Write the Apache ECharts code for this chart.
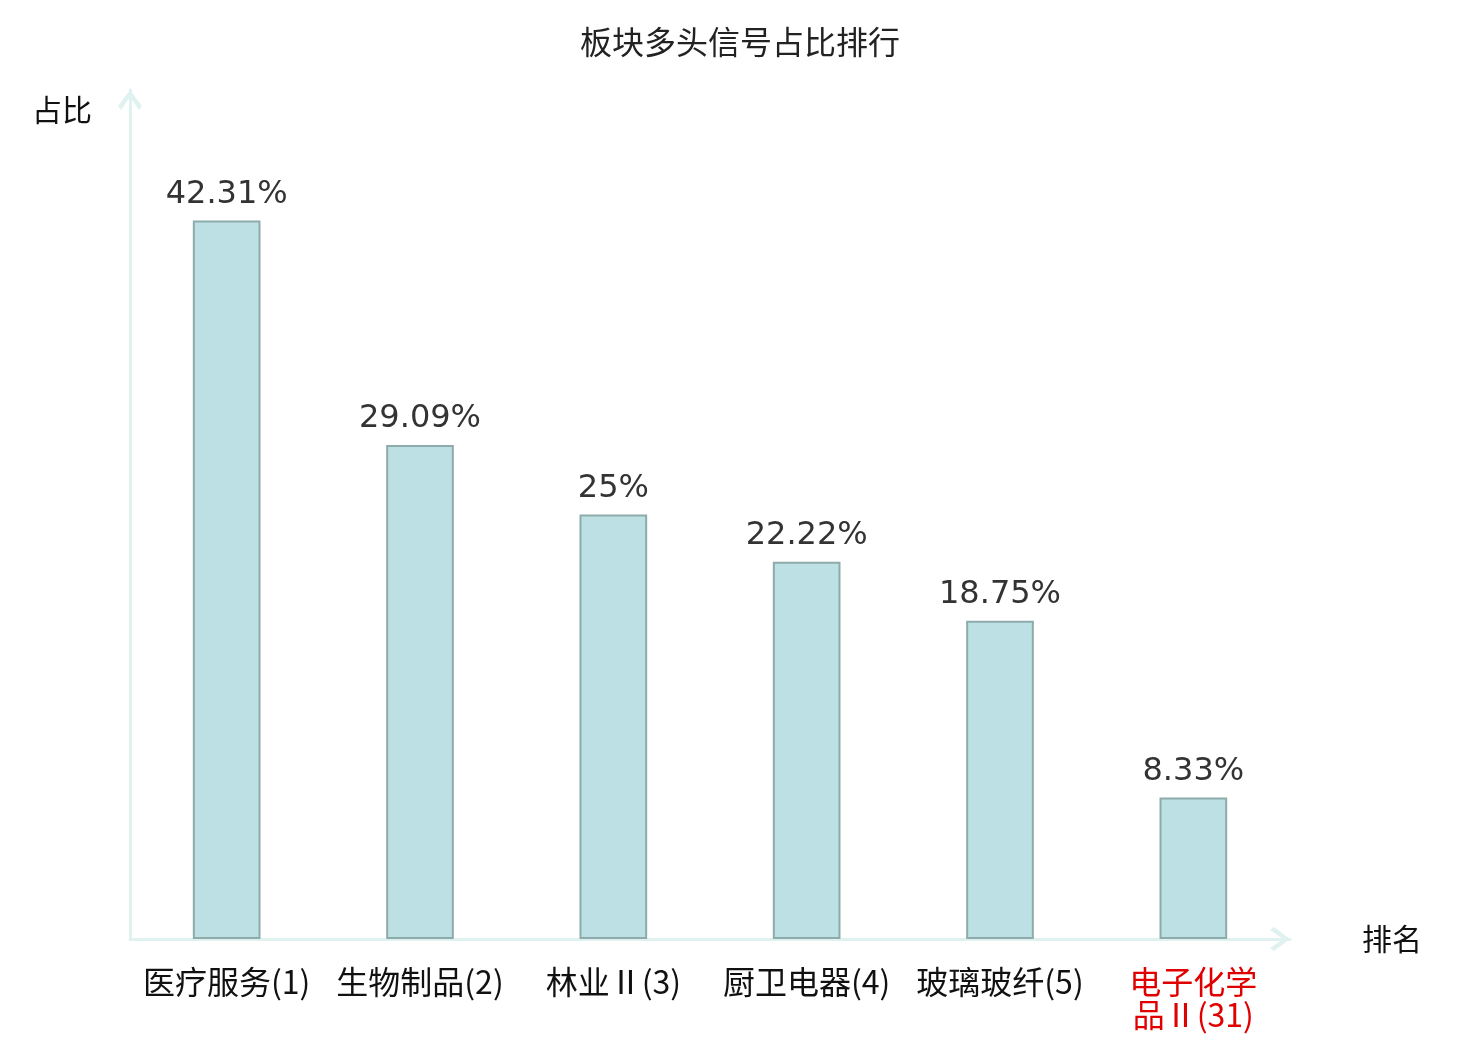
<!DOCTYPE html>
<html>
<head>
<meta charset="utf-8">
<script src="https://cdn.jsdelivr.net/npm/echarts@6/dist/echarts.min.js"></script>
<style>
  html, body { margin: 0; padding: 0; background: #fff; }
  #chart { width: 1480px; height: 1040px; }
</style>
</head>
<body>
<div id="chart"></div>
<script>
const categories = ['医疗服务(1)', '生物制品(2)', '林业Ⅱ(3)', '厨卫电器(4)', '玻璃玻纤(5)', '电子化学品Ⅱ(31)'];
const shares = [42.31, 29.09, 25, 22.22, 18.75, 8.33];
const highlightIndex = 5;

const font = '"Noto Sans CJK SC", "Noto Sans", sans-serif';
const axisColor = '#dff2ef';
// open chevron arrow, pointing up (rotated by echarts for each axis)
const chevron = 'path://M12,0 L24,16 L21,20 L12,7 L3,20 L0,16 Z';

const myChart = echarts.init(document.getElementById('chart'), null, { renderer: 'canvas' });

const option = {
  title: {
    text: '板块多头信号占比排行',
    left: 'center',
    top: 21,
    textStyle: { fontFamily: font, fontSize: 32, fontWeight: 'normal', color: '#222' }
  },
  grid: {
    left: 130,
    right: 190,
    top: 90,
    bottom: 101
  },
  xAxis: {
    type: 'category',
    data: categories.map((c, i) => i === highlightIndex
      ? { value: c, textStyle: { color: '#e00000' } }
      : c),
    name: '排名',
    nameGap: 72,
    nameTextStyle: { fontFamily: font, fontSize: 30, color: '#111', padding: [6, 0, 0, 0] },
    axisLine: {
      lineStyle: { color: axisColor, width: 3 },
      symbol: ['none', chevron],
      symbolSize: [24, 20],
      symbolOffset: [0, -10]
    },
    axisTick: { show: false },
    axisLabel: {
      fontFamily: font,
      fontSize: 32,
      color: '#111',
      margin: 26,
      interval: 0,
      lineHeight: 33,
      // long names go on two lines, four characters first
      formatter: v => v.length > 8 ? v.slice(0, 4) + '\n' + v.slice(4) : v
    }
  },
  yAxis: {
    type: 'value',
    min: 0,
    max: 50,
    name: '占比',
    nameLocation: 'end',
    nameGap: -35,
    nameTextStyle: {
      fontFamily: font, fontSize: 30, color: '#111',
      align: 'right', padding: [0, 38, 0, 0]
    },
    axisLine: {
      show: true,
      lineStyle: { color: axisColor, width: 3 },
      symbol: ['none', chevron],
      symbolSize: [24, 20],
      symbolOffset: [0, -10]
    },
    axisTick: { show: false },
    axisLabel: { show: false },
    splitLine: { show: false }
  },
  series: [
    {
      type: 'bar',
      data: shares,
      barWidth: '35%',
      itemStyle: {
        color: '#bce0e3',
        borderColor: '#8eabab',
        borderWidth: 2
      },
      label: {
        show: true,
        position: 'top',
        distance: 10,
        fontFamily: '"DejaVu Sans", sans-serif',
        fontSize: 32,
        color: '#333',
        formatter: p => p.value + '%'
      }
    }
  ]
};

myChart.setOption(option);
</script>
</body>
</html>
